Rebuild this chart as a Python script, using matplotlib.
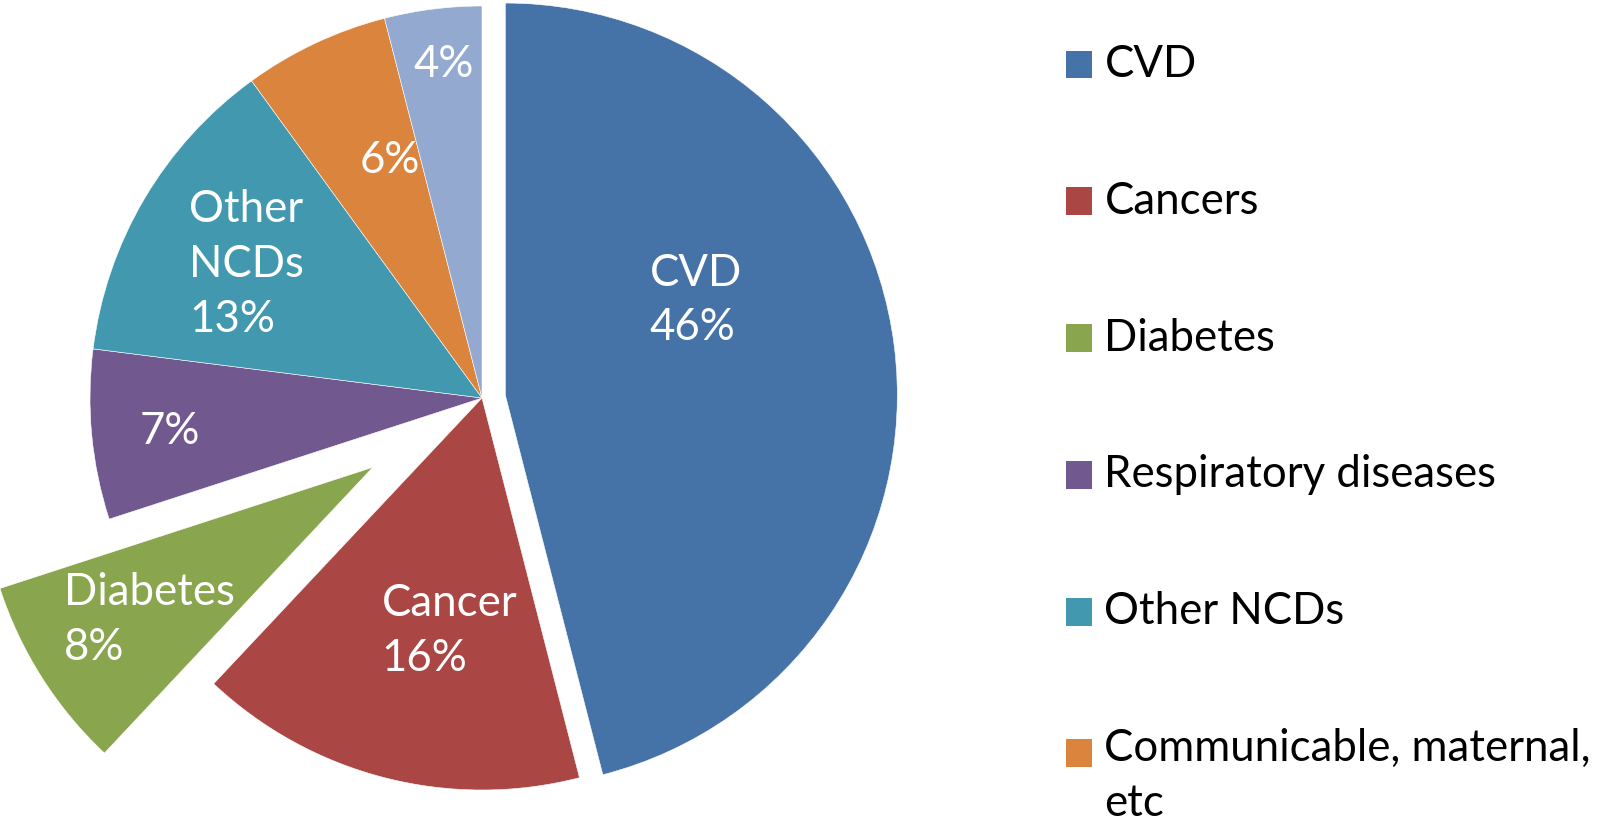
import numpy as np
import matplotlib
matplotlib.use("Agg")
import matplotlib.pyplot as plt
from matplotlib.patches import Patch

plt.rcParams['font.family'] = ['Lato', 'DejaVu Sans']

# ---- data ----
categories = ["CVD", "Cancers", "Diabetes", "Respiratory diseases", "Other NCDs",
              "Communicable, maternal,\netc", ""]
values = [46, 16, 8, 7, 13, 6, 4]
slice_labels = ["CVD\n46%", "Cancer\n16%", "Diabetes\n8%", "7%", "Other\nNCDs\n13%", "6%", "4%"]
colors = ["#4572A7", "#AA4643", "#89A54E", "#71588F", "#4198AF", "#DB843D", "#93A9CF"]
explode = [0.06, 0, 0.33, 0, 0, 0, 0]

# label placement (radius from pie centre, angle shift from wedge mid-angle, degrees)
label_r = [0.60, 0.60, 1.02, 0.80, 0.69, 0.65, 0.855]
label_dang = [17.3, 6.4, 1.3, 0.8, 1.0, -4.0, -0.7]

FS = 31.5
LS = 1.42

W, H, DPI = 1608, 821, 100
fig = plt.figure(figsize=(W / DPI, H / DPI), dpi=DPI)
ax = fig.add_axes([0, 0, 1, 1])

wedges, _ = ax.pie(values, startangle=90, counterclock=False, explode=explode,
                   colors=colors, radius=1, center=(0, 0),
                   wedgeprops=dict(edgecolor="white", linewidth=0.4))

cx_px, cy_px, r_px = 482, 398, 392
ax.set_xlim(-cx_px / r_px, (W - cx_px) / r_px)
ax.set_ylim((cy_px - H) / r_px, cy_px / r_px)
ax.set_aspect('auto')
ax.axis('off')

for w, lab, r, da in zip(wedges, slice_labels, label_r, label_dang):
    mid = 0.5 * (w.theta1 + w.theta2) + da
    x, y = r * np.cos(np.deg2rad(mid)), r * np.sin(np.deg2rad(mid))
    ax.text(x, y, lab, ha="center", va="center", multialignment="left",
            color="white", fontsize=FS, linespacing=LS)

handles = [Patch(facecolor=c, edgecolor="none") for c in colors[:6]]
leg = fig.legend(handles, categories[:6], loc="upper left",
                 bbox_to_anchor=(1066 / W, 1 - 44 / H), frameon=False,
                 fontsize=FS, handlelength=0.6, handleheight=0.6,
                 handletextpad=0.28, labelspacing=2.19, borderpad=0,
                 borderaxespad=0)
for t in leg.get_texts():
    t.set_linespacing(LS)
rows = leg._legend_handle_box.get_children()[0].get_children()
for row in rows:
    row.align = "center"
rows[-1].align = "top"
last_patch = leg.get_patches()[-1]
last_patch.set_y(last_patch.get_y() - 8)

fig.savefig("out.png", dpi=DPI)
